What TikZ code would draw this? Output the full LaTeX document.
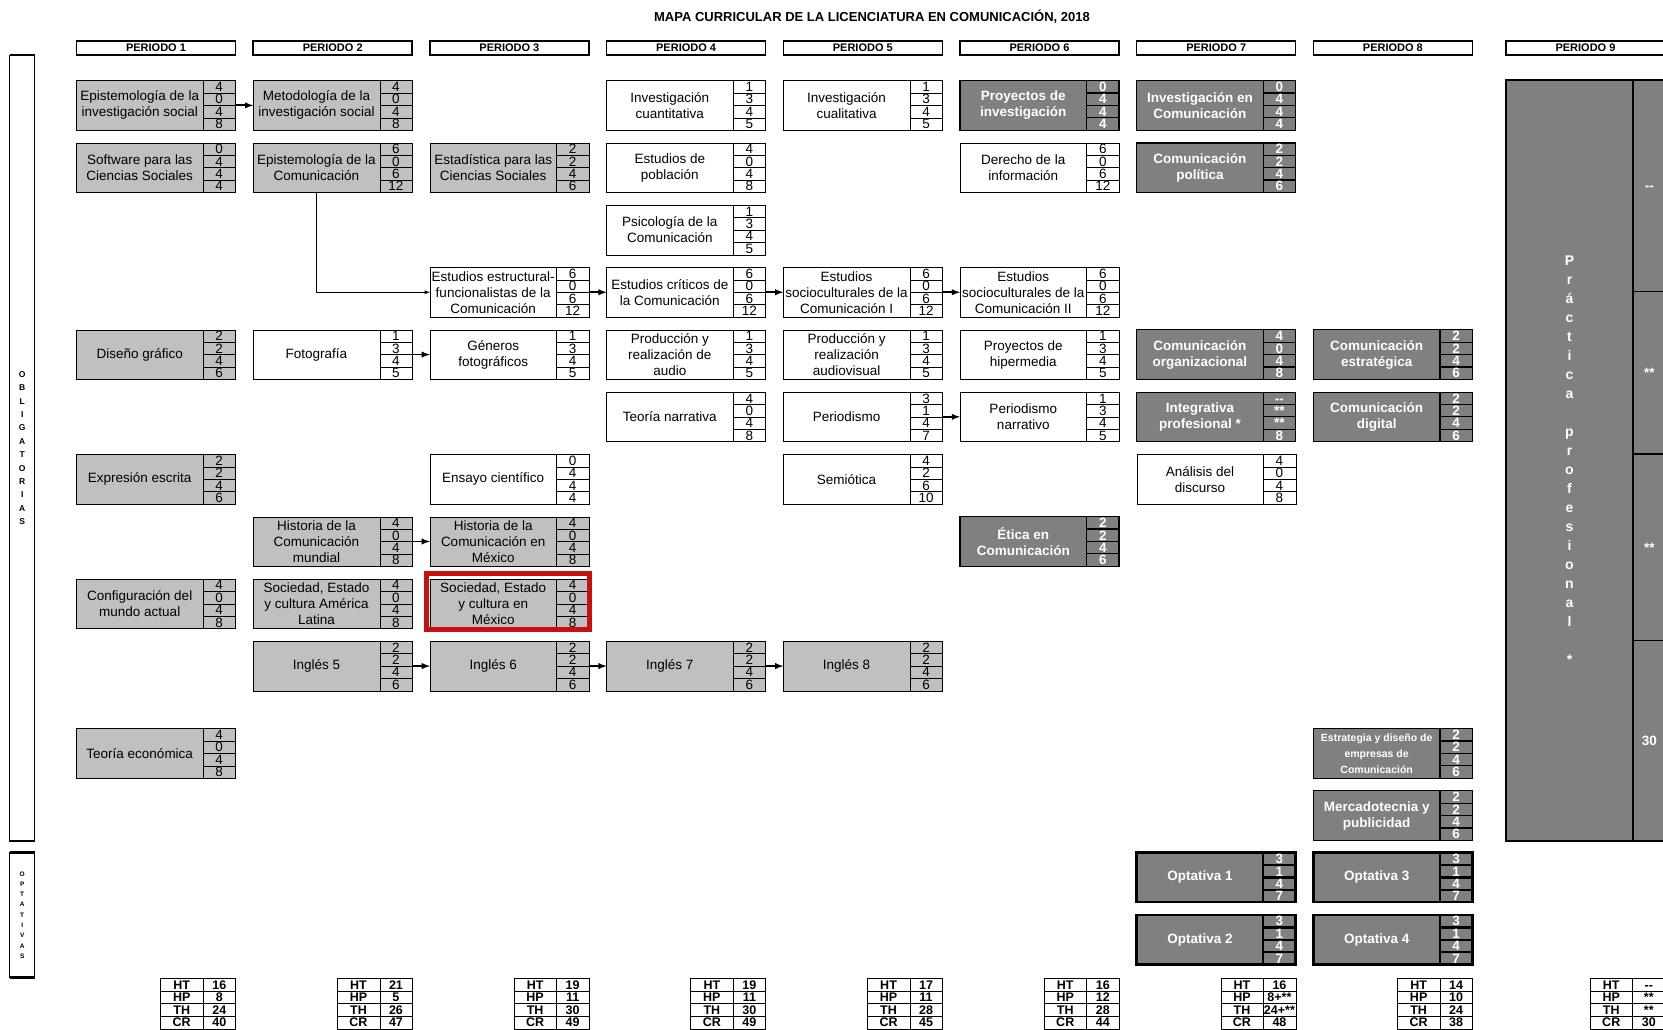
\documentclass[tikz,border=0pt]{standalone}
\usepackage{fontspec}
\setmainfont{Liberation Sans}
\usetikzlibrary{arrows,positioning}
\definecolor{grisclaro}{RGB}{192,192,192}
\definecolor{grisoscuro}{RGB}{128,128,128}
\definecolor{rojo}{RGB}{200,16,16}

\newcommand{\curso}[8]{%
  \node[#1] (#2) at #3 {#4};
  \node[num,#1 num,anchor=north west] (#2n1) at (#2.north east) {#5};
  \node[num,#1 num,below=0pt of #2n1] (#2n2) {#6};
  \node[num,#1 num,below=0pt of #2n2] (#2n3) {#7};
  \node[num,#1 num,below=0pt of #2n3] (#2n4) {#8};
}
\newcommand{\totales}[6]{%
  \node[tot,etiqueta,anchor=north west] (#1HT) at #2 {HT};
  \node[tot,anchor=north west] (#1ht) at (#1HT.north east) {#3};
  \node[tot,etiqueta,below=0pt of #1HT] (#1HP) {HP};
  \node[tot,below=0pt of #1ht] (#1hp) {#4};
  \node[tot,etiqueta,below=0pt of #1HP] (#1TH) {TH};
  \node[tot,below=0pt of #1hp] (#1th) {#5};
  \node[tot,etiqueta,below=0pt of #1TH] (#1CR) {CR};
  \node[tot,below=0pt of #1th] (#1cr) {#6};
}

\begin{document}
\begin{tikzpicture}[x=1pt,y=-1pt]
\tikzstyle{curso} = [rectangle, draw, anchor=north west, minimum width=126.5pt, minimum height=49.5pt, inner sep=1pt, outer sep=0pt, align=center, font=\fontsize{13.5}{16}\selectfont]
\tikzstyle{claro} = [curso, fill=grisclaro]
\tikzstyle{blanco} = [curso, fill=white]
\tikzstyle{oscuro} = [curso, fill=grisoscuro, line width=1.2pt, text=white, font=\bfseries\fontsize{13.5}{16}\selectfont]
\tikzstyle{optativa} = [oscuro, line width=2.5pt]
\tikzstyle{num} = [rectangle, draw, minimum width=32.5pt, minimum height=12.375pt, inner sep=0pt, outer sep=0pt, text height=9.5pt, text depth=0pt, font=\fontsize{13.5}{14}\selectfont]
\tikzstyle{claro num} = [fill=grisclaro]
\tikzstyle{blanco num} = [fill=white]
\tikzstyle{oscuro num} = [fill=grisoscuro, line width=1.2pt, text=white, font=\bfseries\fontsize{13.5}{14}\selectfont]
\tikzstyle{optativa num} = [oscuro num, line width=2.5pt]
\tikzstyle{periodo} = [rectangle, draw, line width=1.5pt, anchor=north west, minimum width=159pt, minimum height=14pt, inner sep=0pt, outer sep=0pt, font=\bfseries\fontsize{11}{12}\selectfont]
\tikzstyle{tot} = [rectangle, draw, minimum width=32.5pt, minimum height=12.6pt, inner sep=0pt, outer sep=0pt, text height=9pt, text depth=0pt, font=\bfseries\fontsize{12.5}{13}\selectfont]
\tikzstyle{etiqueta} = [minimum width=42.5pt]
\tikzstyle{lateral} = [rectangle, draw, line width=1pt, minimum width=24.8pt, inner sep=0pt, outer sep=0pt, align=center]
\tikzstyle{flecha} = [-latex, line width=1.8pt]
\tikzstyle{linea} = [-latex, line width=0.8pt]
\tikzstyle{marco} = [draw=rojo, line width=5pt]

\useasboundingbox (0,0) rectangle (1663,1029);
\fill[white] (0,0) rectangle (1663,1029);

\node[font=\bfseries\fontsize{13}{14}\selectfont] (Titulo) at (872,17) {MAPA CURRICULAR DE LA LICENCIATURA EN COMUNICACIÓN, 2018};

\node[periodo] (H1) at (76.5,41) {PERIODO 1};
\node[periodo] (H2) at (253.2,41) {PERIODO 2};
\node[periodo] (H3) at (429.9,41) {PERIODO 3};
\node[periodo] (H4) at (606.6,41) {PERIODO 4};
\node[periodo] (H5) at (783.3,41) {PERIODO 5};
\node[periodo] (H6) at (960,41) {PERIODO 6};
\node[periodo] (H7) at (1136.7,41) {PERIODO 7};
\node[periodo] (H8) at (1313.4,41) {PERIODO 8};
\node[periodo] (H9) at (1506,41) {PERIODO 9};

\node[lateral, minimum height=786pt, font=\bfseries\fontsize{8.5}{13.4}\selectfont] (Oblig) at (22.2,448) {O\\B\\L\\I\\G\\A\\T\\O\\R\\I\\A\\S};
\draw[line width=2.5pt] (Oblig.north west) -- (Oblig.north east);
\draw[line width=2.5pt] (Oblig.south west) -- (Oblig.south east);
\node[lateral, minimum height=124.6pt, font=\bfseries\fontsize{6.5}{10.3}\selectfont] (Optat) at (22.2,915) {O\\P\\T\\A\\T\\I\\V\\A\\S};
\draw[line width=2.5pt] (Optat.north west) -- (Optat.north east);
\draw[line width=2.5pt] (Optat.south west) -- (Optat.south east);

\curso{claro}{EpiInv}{(76.5,80.6)}{Epistemología de la\\investigación social}{4}{0}{4}{8}
\curso{claro}{Software}{(76.5,142.9)}{Software para las\\Ciencias Sociales}{0}{4}{4}{4}
\curso{claro}{Diseno}{(76.5,329.8)}{Diseño gráfico}{2}{2}{4}{6}
\curso{claro}{Expresion}{(76.5,454.4)}{Expresión escrita}{2}{2}{4}{6}
\curso{claro}{Config}{(76.5,579)}{Configuración del\\mundo actual}{4}{0}{4}{8}
\curso{claro}{TeoEco}{(76.5,728.6)}{Teoría económica}{4}{0}{4}{8}

\curso{claro}{MetInv}{(253.2,80.6)}{Metodología de la\\investigación social}{4}{0}{4}{8}
\curso{claro}{EpiCom}{(253.2,142.9)}{Epistemología de la\\Comunicación}{6}{0}{6}{12}
\curso{blanco}{Foto}{(253.2,329.8)}{Fotografía}{1}{3}{4}{5}
\curso{claro}{HistMun}{(253.2,516.7)}{Historia de la\\Comunicación\\mundial}{4}{0}{4}{8}
\curso{claro}{SocAL}{(253.2,579)}{Sociedad, Estado\\y cultura América\\Latina}{4}{0}{4}{8}
\curso{claro}{Ingles5}{(253.2,641.3)}{Inglés 5}{2}{2}{4}{6}

\curso{claro}{Estad}{(429.9,142.9)}{Estadística para las\\Ciencias Sociales}{2}{2}{4}{6}
\curso{blanco}{Estruct}{(429.9,267.5)}{Estudios estructural-\\funcionalistas de la\\Comunicación}{6}{0}{6}{12}
\curso{blanco}{Generos}{(429.9,329.8)}{Géneros\\fotográficos}{1}{3}{4}{5}
\curso{blanco}{Ensayo}{(429.9,454.4)}{Ensayo científico}{0}{4}{4}{4}
\curso{claro}{HistMex}{(429.9,516.7)}{Historia de la\\Comunicación en\\México}{4}{0}{4}{8}
\curso{claro}{SocMex}{(429.9,579)}{Sociedad, Estado\\y cultura en\\México}{4}{0}{4}{8}
\curso{claro}{Ingles6}{(429.9,641.3)}{Inglés 6}{2}{2}{4}{6}

\curso{blanco}{InvCuant}{(606.6,80.6)}{Investigación\\cuantitativa}{1}{3}{4}{5}
\curso{blanco}{Poblacion}{(606.6,142.9)}{Estudios de\\población}{4}{0}{4}{8}
\curso{blanco}{Psico}{(606.6,205.2)}{Psicología de la\\Comunicación}{1}{3}{4}{5}
\curso{blanco}{Criticos}{(606.6,267.5)}{Estudios críticos de\\la Comunicación}{6}{0}{6}{12}
\curso{blanco}{ProdAudio}{(606.6,329.8)}{Producción y\\realización de\\audio}{1}{3}{4}{5}
\curso{blanco}{TeoNarr}{(606.6,392.1)}{Teoría narrativa}{4}{0}{4}{8}
\curso{claro}{Ingles7}{(606.6,641.3)}{Inglés 7}{2}{2}{4}{6}

\curso{blanco}{InvCual}{(783.3,80.6)}{Investigación\\cualitativa}{1}{3}{4}{5}
\curso{blanco}{Socio1}{(783.3,267.5)}{Estudios\\socioculturales de la\\Comunicación I}{6}{0}{6}{12}
\curso{blanco}{ProdAV}{(783.3,329.8)}{Producción y\\realización\\audiovisual}{1}{3}{4}{5}
\curso{blanco}{Period}{(783.3,392.1)}{Periodismo}{3}{1}{4}{7}
\curso{blanco}{Semio}{(783.3,454.4)}{Semiótica}{4}{2}{6}{10}
\curso{claro}{Ingles8}{(783.3,641.3)}{Inglés 8}{2}{2}{4}{6}

\curso{oscuro}{ProyInv}{(960,80.6)}{Proyectos de\\investigación}{0}{4}{4}{4}
\curso{blanco}{Derecho}{(960,142.9)}{Derecho de la\\información}{6}{0}{6}{12}
\curso{blanco}{Socio2}{(960,267.5)}{Estudios\\socioculturales de la\\Comunicación II}{6}{0}{6}{12}
\curso{blanco}{Hiper}{(960,329.8)}{Proyectos de\\hipermedia}{1}{3}{4}{5}
\curso{blanco}{PerNarr}{(960,392.1)}{Periodismo\\narrativo}{1}{3}{4}{5}
\curso{oscuro}{Etica}{(960,516.7)}{Ética en\\Comunicación}{2}{2}{4}{6}

\curso{oscuro}{InvCom}{(1136.7,80.6)}{Investigación en\\Comunicación}{0}{4}{4}{4}
\curso{oscuro}{Politica}{(1136.7,142.9)}{Comunicación\\política}{2}{2}{4}{6}
\curso{oscuro}{Organiz}{(1136.7,329.8)}{Comunicación\\organizacional}{4}{0}{4}{8}
\curso{oscuro}{Integr}{(1136.7,392.1)}{Integrativa\\profesional *}{-{}-}{**}{**}{8}
\curso{blanco}{Analisis}{(1136.7,454.4)}{Análisis del\\discurso}{4}{0}{4}{8}
\curso{optativa}{Opt1}{(1136.7,852.7)}{Optativa 1}{3}{1}{4}{7}
\curso{optativa}{Opt2}{(1136.7,915)}{Optativa 2}{3}{1}{4}{7}

\curso{oscuro}{Estrat}{(1313.4,329.8)}{Comunicación\\estratégica}{2}{2}{4}{6}
\curso{oscuro}{Digital}{(1313.4,392.1)}{Comunicación\\digital}{2}{2}{4}{6}
\curso{oscuro}{Empresas}{(1313.4,728.6)}{\fontsize{10.5}{13}\selectfont Estrategia y diseño de\\\fontsize{10.5}{13}\selectfont empresas de\\\fontsize{10.5}{13}\selectfont Comunicación}{2}{2}{4}{6}
\curso{oscuro}{Merca}{(1313.4,790.8)}{Mercadotecnia y\\publicidad}{2}{2}{4}{6}
\curso{optativa}{Opt3}{(1313.4,852.7)}{Optativa 3}{3}{1}{4}{7}
\curso{optativa}{Opt4}{(1313.4,915)}{Optativa 4}{3}{1}{4}{7}

\node[oscuro, minimum width=127pt, minimum height=761pt, font=\bfseries\fontsize{14}{19}\selectfont] (Practica) at (1506,80) {P\\r\\á\\c\\t\\i\\c\\a\\[19pt]p\\r\\o\\f\\e\\s\\i\\o\\n\\a\\l\\[19pt]*};
\node[num, oscuro num, anchor=north west, minimum height=211.7pt] (Practican1) at (Practica.north east) {-{}-};
\node[num, oscuro num, minimum height=162.3pt, below=0pt of Practican1] (Practican2) {**};
\node[num, oscuro num, minimum height=186.6pt, below=0pt of Practican2] (Practican3) {**};
\node[num, oscuro num, minimum height=200.4pt, below=0pt of Practican3] (Practican4) {30};

\draw[marco] ([shift={(-3,-5.5)}]SocMex.north west) rectangle ([shift={(0.5,1)}]SocMexn4.south east);

\draw[flecha] (EpiInvn2.south east) -- (MetInv.west);
\draw[linea] (EpiCom.south) |- (Estruct.west);
\draw[flecha] (Estructn2.south east) -- (Criticos.west);
\draw[flecha] (Criticosn2.south east) -- (Socio1.west);
\draw[flecha] (Socio1n2.south east) -- (Socio2.west);
\draw[flecha] (Foton2.south east) -- (Generos.west);
\draw[flecha] (Periodn2.south east) -- (PerNarr.west);
\draw[flecha] (HistMunn2.south east) -- (HistMex.west);
\draw[flecha] (Ingles5n2.south east) -- (Ingles6.west);
\draw[flecha] (Ingles6n2.south east) -- (Ingles7.west);
\draw[flecha] (Ingles7n2.south east) -- (Ingles8.west);

\totales{T1}{(160.5,978.3)}{16}{8}{24}{40}
\totales{T2}{(337.2,978.3)}{21}{5}{26}{47}
\totales{T3}{(513.9,978.3)}{19}{11}{30}{49}
\totales{T4}{(690.6,978.3)}{19}{11}{30}{49}
\totales{T5}{(867.3,978.3)}{17}{11}{28}{45}
\totales{T6}{(1044,978.3)}{16}{12}{28}{44}
\totales{T7}{(1220.7,978.3)}{16}{8+**}{24+**}{48}
\totales{T8}{(1397.4,978.3)}{14}{10}{24}{38}
\totales{T9}{(1590,978.3)}{-{}-}{**}{**}{30}

\end{tikzpicture}
\end{document}
